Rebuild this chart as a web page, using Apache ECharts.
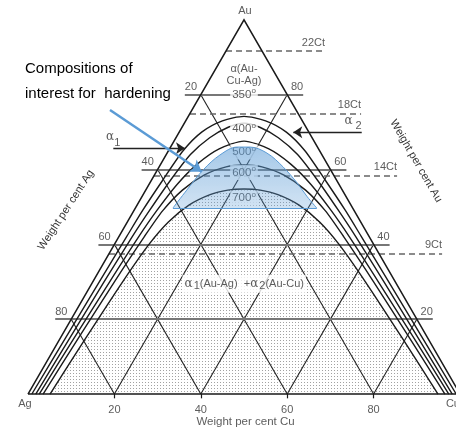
<!DOCTYPE html>
<html>
<head>
<meta charset="utf-8">
<script src="https://cdn.jsdelivr.net/npm/echarts@6/dist/echarts.min.js"></script>
<style>
  html, body { margin: 0; padding: 0; background: #fff; }
  #chart { width: 456px; height: 430px; }
</style>
</head>
<body>
<div id="chart"></div>
<script>
// ---- Au-Ag-Cu ternary diagram data (compositions in wt%) ----
// Isotherm labels (deg C) and the Au level where each label sits on the centre line
const isoTemps = ['350', '400', '500', '600', '700'];
const isoLabelAu = [80, 70.8, 64.7, 59.2, 52.4];

// Solvus isotherms as [wt% Cu, wt% Au]
const iso350 = [[0.9,0],[1.2,15],[1.5,30],[1.8,42],[2.0,49],[2.6,57],[3.4,65],[5.2,70],[8.5,73],[12.9,74.2],
                [18.5,73],[24.8,70],[31.6,65],[40.4,57],[49.0,49],[56.2,42],[68.5,30],[83.8,15],[99.1,0]];
const iso400 = [[1.8,0],[2.2,15],[2.6,30],[3.1,42],[3.6,49],[4.4,57],[5.6,64],[7.8,68.5],[10.7,71.3],[13.8,72.4],
                [18.0,71.3],[23.7,68.5],[30.4,64],[38.6,57],[47.4,49],[54.9,42],[67.4,30],[82.8,15],[98.2,0]];
const iso500 = [[2.6,0],[3.2,15],[3.9,30],[4.6,42],[5.3,49],[6.5,56],[8.5,61.5],[11.5,65.5],[16.2,67.6],
                [23.0,65.5],[30.0,61.5],[37.5,56],[45.7,49],[53.4,42],[66.1,30],[81.8,15],[97.4,0]];
const iso600 = [[3.5,0],[4.2,15],[5.0,30],[5.9,42],[6.7,49],[8.5,54.5],[11.5,58.5],[15.5,60.7],[19.4,61.2],
                [23.8,60.7],[30.0,58.5],[37.0,54.5],[44.3,49],[52.1,42],[65.0,30],[80.8,15],[96.5,0]];
const iso700 = [[5.1,0],[5.9,15],[6.9,30],[8.0,40],[9.5,46],[12.0,50.5],[15.5,53.3],[19.0,54.5],[22.6,54.8],
                [26.5,54.5],[31.2,53.3],[37.5,50.5],[44.5,46],[52.0,40],[63.1,30],[79.1,15],[94.9,0]];

// Highlighted composition range, [wt% Cu, wt% Au] along its upper boundary
const hardeningZone = [[8.7,49.7],[9.5,54.5],[10.6,59.9],[12.5,63.9],[15.4,66.0],[18.4,66.0],[23.1,64.4],
                       [28.7,60.7],[34.1,56.4],[38.3,52.7],[42.0,49.7]];

// Grid levels and tick labels
const gridLevels = [20, 40, 60, 80];
const baseTickLabels = ['20', '40', '60', '80'];       // wt% Cu along the base
const leftTickLabels = ['80', '60', '40', '20'];       // wt% Ag at Au = 20,40,60,80
const rightTickLabels = ['20', '40', '60', '80'];      // wt% Au at Au = 20,40,60,80

// Carat gold lines
const caratAu = [91.67, 75, 58.33, 37.5];
const caratLabels = ['22Ct', '18Ct', '14Ct', '9Ct'];

// ---- helpers ----
const S = Math.sqrt(3) / 2;
// ternary (Cu, Au) -> cartesian (Ag at origin, Cu at x = 100, Au at apex)
const T = (cu, au) => [cu + au / 2, au * S];
const toXY = arr => arr.map(p => T(p[0], p[1]));

const FONT = 'Liberation Sans';
const INK = '#1a1a1a';
const TXT = '#333';
const H_EXT = 3.7;    // overhang of the horizontal Au lines beyond the triangle
const C_EXT = 14.6;   // overhang of carat lines to the right

// stipple pattern for the two-phase field
const pat = document.createElement('canvas');
pat.width = 3; pat.height = 3;
const pg = pat.getContext('2d');
pg.fillStyle = '#ffffff'; pg.fillRect(0, 0, 3, 3);
pg.fillStyle = '#a2a2a2'; pg.fillRect(1, 1, 1, 1);

// ---- straight segments ----
const edges = [{ coords: [T(0,0), T(100,0), T(0,100), T(0,0)] }];
const innerGrid = [];
gridLevels.forEach(v => {
  innerGrid.push({ coords: [T(v, 0), T(v, 100 - v)] });          // constant Cu
  innerGrid.push({ coords: [T(100 - v, 0), T(0, 100 - v)] });    // constant Ag
});
const auLines = gridLevels.map(au => ({
  coords: [[au / 2 - H_EXT, au * S], [100 - au / 2 + H_EXT, au * S]]
}));
const caratLines = caratAu.map(au => ({
  coords: [T(0, au), [100 - au / 2 + C_EXT, au * S]]
}));
const baseTicks = gridLevels.map(c => ({ coords: [[c, 0], [c, -1]] }));

// ---- label items ----
const lbl = (p, text, extra) => ({ value: p, label: Object.assign({ formatter: text }, extra || {}) });

const outerLabels = [];
gridLevels.forEach((au, i) => {
  outerLabels.push(lbl([au / 2 - H_EXT, au * S], leftTickLabels[i], { align: 'left', verticalAlign: 'bottom', offset: [0, -2] }));
  outerLabels.push(lbl([100 - au / 2 + H_EXT, au * S], rightTickLabels[i], { align: 'right', verticalAlign: 'bottom', offset: [0, -2] }));
  outerLabels.push(lbl(T(au, 0), baseTickLabels[i], { offset: [0, 16] }));
});
caratAu.forEach((au, i) => {
  outerLabels.push(lbl([100 - au / 2 + C_EXT, au * S], caratLabels[i], { align: 'right', verticalAlign: 'bottom', offset: [0, -3] }));
});
outerLabels.push(lbl(T(0, 100), 'Au', { offset: [1, -9] }));
outerLabels.push(lbl(T(0, 0), 'Ag', { offset: [-3, 10] }));
// the Cu vertex lies just past the right border; anchor its label slightly inside
outerLabels.push(lbl([98, 0], 'Cu', { align: 'left', offset: [-5.5, 10] }));
outerLabels.push(lbl(T(50, 0), 'Weight per cent Cu', { offset: [1.5, 28], fontSize: 11.5 }));

const tempLabels = isoTemps.map((t, i) =>
  lbl(T((100 - isoLabelAu[i]) / 2, isoLabelAu[i]), '{n|' + t + '}{d|o}'));

const phaseLabels = [
  lbl(T(7.35, 85.3), 'α(Au-\nCu-Ag)', { lineHeight: 12, fontSize: 11, backgroundColor: '#fff' }),
  lbl(T(35.3, 29.5), '{g|α}{s|1}{n|(Au-Ag)  +}{g|α}{s|2}{n|(Au-Cu)}', { backgroundColor: '#fff', padding: [1, 2] })
];

// markers of the single-phase fields
const alphaMarks = [
  lbl([19.0, 59.5], 'α', { fontFamily: 'DejaVu Serif', fontSize: 12 }),
  lbl([20.7, 58.1], '1', { fontSize: 11 }),
  lbl([74.2, 63.3], 'α', { fontFamily: 'DejaVu Serif', fontSize: 12 }),
  lbl([76.5, 62.0], '2', { fontSize: 11 })
];

const curveSeries = [iso350, iso400, iso500, iso600, iso700].map(c => ({
  type: 'line', data: toXY(c), smooth: 0.25, symbol: 'none', silent: true, z: 4,
  lineStyle: { color: INK, width: 1.4 }
}));

const baseLabel = { show: true, position: 'inside', color: TXT, fontSize: 11, fontFamily: FONT };

const zoneXY = toXY(hardeningZone);
const zoneBaseY = zoneXY[0][1];

const option = {
  animation: false,
  grid: { left: 0, right: 0, top: 0, bottom: 0 },
  xAxis: { type: 'value', min: -6.48, max: 99.07, show: false },
  yAxis: { type: 'value', min: -8.33, max: 91.2, show: false },
  graphic: [
    { type: 'text', left: 25, top: 61, style: { text: 'Compositions of', font: '15px "Liberation Sans"', fill: '#000' } },
    { type: 'text', left: 25, top: 86, style: { text: 'interest for  hardening', font: '15px "Liberation Sans"', fill: '#000' } },
    { type: 'text', x: 66, y: 210, rotation: 57 * Math.PI / 180,
      style: { text: 'Weight per cent Ag', font: '11px "Liberation Sans"', fill: TXT, align: 'center', verticalAlign: 'middle' } },
    { type: 'text', x: 416, y: 161, rotation: -60 * Math.PI / 180,
      style: { text: 'Weight per cent Au', font: '11px "Liberation Sans"', fill: TXT, align: 'center', verticalAlign: 'middle' } }
  ],
  series: [
    // stippled two-phase field inside the 700 deg isotherm
    { type: 'line', data: toXY(iso700), smooth: 0.25, symbol: 'none', silent: true, z: 1,
      lineStyle: { width: 0 }, areaStyle: { color: { image: pat, repeat: 'repeat' }, origin: 0, opacity: 1 } },
    { type: 'lines', coordinateSystem: 'cartesian2d', polyline: false, silent: true, z: 2,
      data: innerGrid, lineStyle: { color: '#222', width: 1.1, opacity: 1 } },
    { type: 'lines', coordinateSystem: 'cartesian2d', silent: true, z: 2,
      data: auLines, lineStyle: { color: '#777', width: 1.8, opacity: 1 } },
    { type: 'lines', coordinateSystem: 'cartesian2d', silent: true, z: 2,
      data: caratLines, lineStyle: { color: '#666', width: 1.5, type: [6, 4], opacity: 1 } },
    { type: 'lines', coordinateSystem: 'cartesian2d', silent: true, z: 3,
      data: baseTicks, lineStyle: { color: INK, width: 1.2, opacity: 1 } },
    { type: 'lines', coordinateSystem: 'cartesian2d', polyline: true, silent: true, z: 3,
      data: edges, lineStyle: { color: INK, width: 1.5, opacity: 1 } },
    ...curveSeries,
    // phase-field arrows
    { type: 'lines', coordinateSystem: 'cartesian2d', silent: true, z: 5,
      symbol: ['none', 'arrow'], symbolSize: 9,
      data: [{ coords: [[19.75, 56.87], [36.34, 56.87]] }, { coords: [[77.25, 60.58], [61.41, 60.58]] }],
      lineStyle: { color: '#222', width: 1.3, opacity: 1 } },
    // labels
    { type: 'scatter', symbolSize: 0, silent: true, z: 6, data: outerLabels, label: baseLabel },
    { type: 'scatter', symbolSize: 0, silent: true, z: 6, data: tempLabels,
      label: Object.assign({}, baseLabel, { backgroundColor: '#fff', padding: [0, 2],
        rich: { n: { fontSize: 11.5, fontFamily: FONT, color: TXT }, d: { fontSize: 8, fontFamily: FONT, color: TXT, padding: [0, 0, 7, 0] } } }) },
    { type: 'scatter', symbolSize: 0, silent: true, z: 6, data: phaseLabels,
      label: Object.assign({}, baseLabel, { fontSize: 11,
        rich: { g: { fontSize: 12, fontFamily: 'DejaVu Serif', color: TXT }, s: { fontSize: 11, fontFamily: FONT, color: TXT, padding: [5, 0, 0, 1] },
                n: { fontSize: 11, fontFamily: FONT, color: TXT } } }) },
    { type: 'scatter', symbolSize: 0, silent: true, z: 6, data: alphaMarks, label: baseLabel },
    // highlighted compositions
    { type: 'line', data: zoneXY, smooth: 0.35, symbol: 'none', silent: true, z: 8,
      lineStyle: { color: '#5b9bd5', width: 1 },
      areaStyle: { origin: zoneBaseY, opacity: 1,
        color: { type: 'linear', x: 0, y: 0, x2: 0, y2: 1,
          colorStops: [{ offset: 0, color: 'rgba(91,155,213,0.55)' }, { offset: 1, color: 'rgba(91,155,213,0.28)' }] } } },
    { type: 'lines', coordinateSystem: 'cartesian2d', silent: true, z: 8,
      data: [{ coords: [zoneXY[0], zoneXY[zoneXY.length - 1]] }], lineStyle: { color: '#5b9bd5', width: 1, opacity: 1 } },
    { type: 'lines', coordinateSystem: 'cartesian2d', silent: true, z: 9,
      symbol: ['none', 'arrow'], symbolSize: 11,
      data: [{ coords: [[18.98, 65.74], [40.21, 51.46]] }],
      lineStyle: { color: '#5b9bd5', width: 2.5, opacity: 1 } }
  ]
};

const chart = echarts.init(document.getElementById('chart'), null, { renderer: 'canvas' });
chart.setOption(option);
</script>
</body>
</html>
